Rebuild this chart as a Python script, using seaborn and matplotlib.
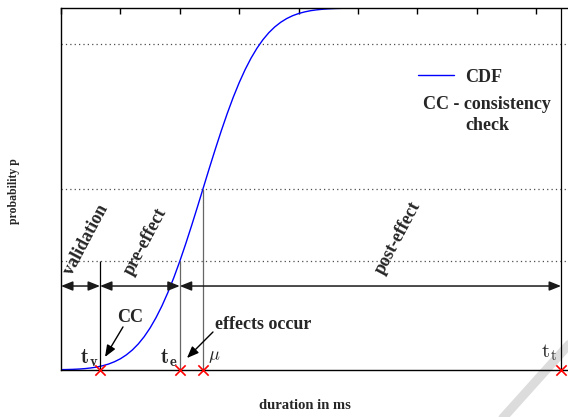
import numpy as np
import pandas as pd
import matplotlib
matplotlib.use("Agg")
import matplotlib.pyplot as plt
from matplotlib.lines import Line2D
import seaborn as sns

# CDF (duration in tick units, probability p)
cdf_duration = [0.0, 0.1, 0.2, 0.3, 0.4, 0.5, 0.6, 0.7, 0.8, 0.9,
                1.0, 1.1, 1.2, 1.3, 1.4, 1.5, 1.6, 1.7, 1.8, 1.9,
                2.0, 2.1, 2.2, 2.3, 2.4, 2.5, 2.6, 2.7, 2.8, 2.9,
                3.0, 3.1, 3.2, 3.3, 3.4, 3.5, 3.6, 3.7, 3.8, 3.9,
                4.0, 4.1, 4.2, 4.3, 4.4, 4.5, 4.6, 4.7, 4.8, 4.9,
                5.0, 6.0, 7.0, 8.0, 9.0]
cdf_prob = [0.0010, 0.0013, 0.0018, 0.0026, 0.0038, 0.0056, 0.0081, 0.0117, 0.0164, 0.0228,
            0.0310, 0.0417, 0.0551, 0.0717, 0.0919, 0.1161, 0.1446, 0.1772, 0.2142, 0.2553,
            0.3003, 0.3486, 0.3994, 0.4519, 0.5054, 0.5588, 0.6110, 0.6613, 0.7089, 0.7533,
            0.7936, 0.8297, 0.8615, 0.8890, 0.9124, 0.9319, 0.9478, 0.9606, 0.9708, 0.9787,
            0.9847, 0.9891, 0.9925, 0.9948, 0.9965, 0.9977, 0.9985, 0.9990, 0.9994, 0.9996,
            0.9998, 1.0, 1.0, 1.0, 1.0]

# marked points on the duration axis and the height of their guide lines
point_labels = [r'$\mathbf{t}_{\mathbf{v}}$', r'$\mathbf{t}_{\mathbf{e}}$', r'$\mu$', r'$\mathrm{t}_{\mathrm{t}}$']
point_x = [0.657, 2.0, 2.39, 8.42]
guide_top = [0.3, 0.3, 0.5, 1.0]
guide_color = ['black', '0.4', '0.4', 'black']

level_lines = [0.3, 0.5, 0.9]

phase_names = ['validation', 'pre-effect', 'post-effect']
phase_bounds = [0.0, 0.657, 2.0, 8.42]
phase_level = 0.232

serif = ['Liberation Serif', 'DejaVu Serif']

sns.set_style("white")
plt.rcParams['font.family'] = serif
plt.rcParams['mathtext.fontset'] = 'cm'

fig = plt.figure(figsize=(5.68, 4.17), dpi=100)
ax = fig.add_axes([61 / 568, 47 / 417, 0.941, 362 / 417])
ax.patch.set_facecolor('none')

sns.lineplot(x=cdf_duration, y=cdf_prob, color='#0000ff', lw=1.0, label='CDF', ax=ax)

for lvl in level_lines:
    ax.axhline(lvl, color='0.3', lw=0.9, ls=(0, (1, 2.5)), zorder=1)

ax.vlines(point_x, 0, guide_top, colors=guide_color, lw=0.9, zorder=2)
ax.scatter(point_x, [0] * len(point_x), marker='x', color='red', s=55,
           linewidths=1.2, clip_on=False, zorder=5)

# phase arrows
head = '<|-|>,head_length=0.7,head_width=0.28'
for i in range(3):
    ax.annotate('', xy=(phase_bounds[i + 1], phase_level), xytext=(phase_bounds[i], phase_level),
                arrowprops=dict(arrowstyle=head, color='0.1', lw=1.1, shrinkA=0, shrinkB=0))

label_pos = [(0.42, 0.359), (1.43, 0.356), (5.67, 0.365)]
for name, (lx, ly) in zip(phase_names, label_pos):
    ax.text(lx, ly, name, rotation=62, rotation_mode='anchor', ha='center', va='center',
            fontsize=13, fontweight='bold')

# point labels
ax.text(0.623, 0.017, point_labels[0], fontsize=15, ha='right', va='baseline')
ax.text(1.953, 0.017, point_labels[1], fontsize=15, ha='right', va='baseline')
ax.text(2.475, 0.030, point_labels[2], fontsize=13, ha='left', va='baseline')
ax.text(8.35, 0.036, point_labels[3], fontsize=15, ha='right', va='baseline')

# annotations: text and pointer drawn separately
pointer = dict(arrowstyle='-|>,head_length=0.7,head_width=0.28', color='black',
               lw=1.0, shrinkA=0, shrinkB=0)
ax.text(1.16, 0.144, 'CC', ha='center', va='center', fontsize=13, fontweight='bold')
ax.annotate('', xy=(0.741, 0.036), xytext=(1.044, 0.119), arrowprops=pointer)
ax.text(2.59, 0.127, 'effects occur', ha='left', va='center', fontsize=13, fontweight='bold')
ax.annotate('', xy=(2.121, 0.033), xytext=(2.559, 0.105), arrowprops=pointer)

leg = ax.legend(loc='center left', frameon=False, borderpad=0, borderaxespad=0,
                handlelength=2.0, handletextpad=0.6,
                prop={'family': serif, 'weight': 'bold', 'size': 13})
leg.set_bbox_to_anchor((418 / 568, 1 - 77 / 417), transform=fig.transFigure)
ax.text(487 / 568, 1 - 115 / 417, 'CC - consistency\ncheck', transform=fig.transFigure,
        ha='center', va='center', multialignment='center', linespacing=1.3,
        fontsize=13, fontweight='bold')

ax.set_xlim(0, 9)
ax.set_ylim(0, 1)
ax.set_xticks(np.arange(0, 10, 1))
ax.set_yticks(np.arange(0, 1.01, 0.2))
ax.tick_params(direction='in', length=4, width=1, top=True, right=False,
               labelbottom=False, labelleft=False, color='black')
for side in ['left', 'bottom', 'top']:
    ax.spines[side].set_color('black')
    ax.spines[side].set_linewidth(1.0)
ax.spines['right'].set_visible(False)

ax.set_xlabel('duration in ms', fontsize=10.5, fontweight='bold')
ax.set_ylabel('probability p', fontsize=8.5, fontweight='bold')
ax.xaxis.set_label_coords(0.457, -0.08)
ax.yaxis.set_label_coords(-0.077, 0.494)

# faint watermark stroke in the corner
fig.add_artist(Line2D([500 / 568, 575 / 568], [-0.01, 0.19], transform=fig.transFigure,
                      color='#dcdcdc', lw=6.5, solid_capstyle='round', zorder=-1))

fig.savefig('out.png', dpi=100, facecolor='white')
